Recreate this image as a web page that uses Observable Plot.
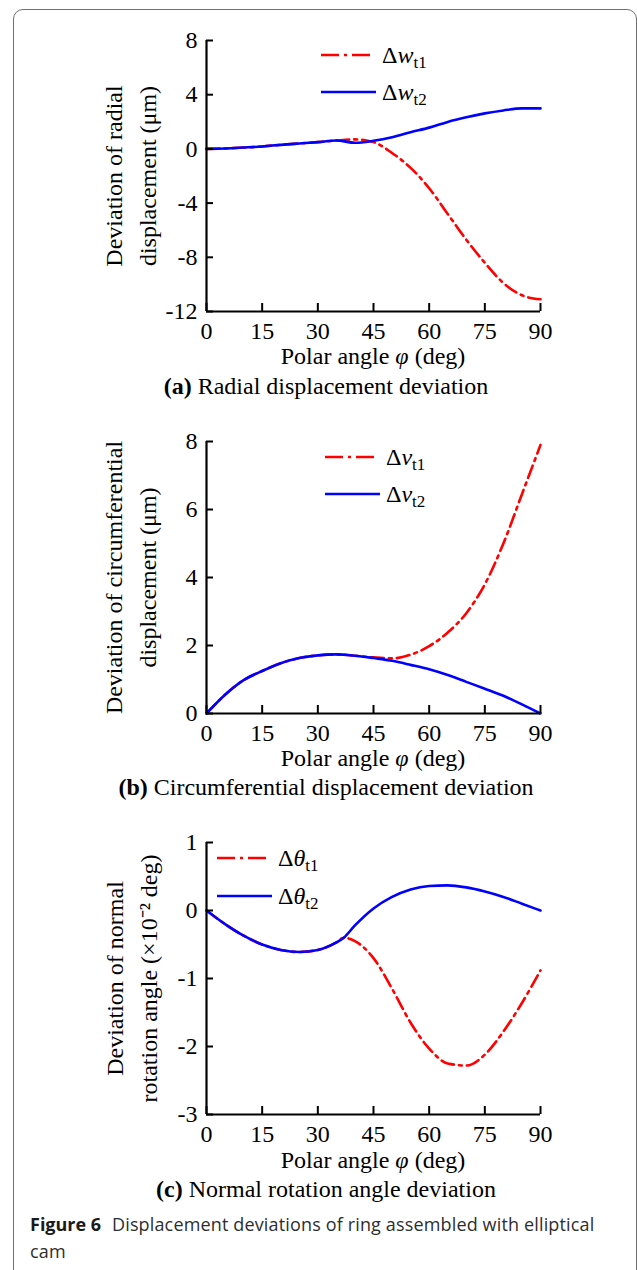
<!DOCTYPE html>
<html>
<head>
<meta charset="utf-8">
<script src="https://cdn.jsdelivr.net/npm/d3@7"></script>
<script src="https://cdn.jsdelivr.net/npm/@observablehq/plot@0.6"></script>
<style>
  body { margin: 0; background: #fff; }
  #wrap { position: relative; width: 637px; height: 1270px; overflow: hidden; background: #fff; }
  #frame { position: absolute; left: 13px; top: 9px; width: 624px; height: 1400px;
           border: 1.5px solid #707070; border-radius: 10px; box-sizing: border-box; }
  .panel { position: absolute; left: 0; }
  .sub { position: absolute; left: 0; width: 652px; text-align: center;
         font-family: "Liberation Serif", "Times New Roman", serif; font-size: 24px; line-height: 24px; color: #000; }
  .cap { position: absolute; left: 30px; top: 1211px; font-family: "Open Sans", sans-serif; font-size: 18px;
         letter-spacing: 0.15px; line-height: 27px; color: #2e2e2e; white-space: nowrap; }
  .cap b { color: #1a1a1a; font-weight: 700; margin-right: 6px; letter-spacing: 0; }
</style>
</head>
<body>
<div id="wrap">
  <div id="frame"></div>
  <div class="panel" id="pa" style="top:0px"></div>
  <div class="panel" id="pb" style="top:400px"></div>
  <div class="panel" id="pc" style="top:800px"></div>
  <div class="sub" style="top:374px"><b>(a)</b> Radial displacement deviation</div>
  <div class="sub" style="top:775px"><b>(b)</b> Circumferential displacement deviation</div>
  <div class="sub" style="top:1177px"><b>(c)</b> Normal rotation angle deviation</div>
  <div class="cap"><b>Figure 6</b> Displacement deviations of ring assembled with elliptical<br>cam</div>
</div>
<script>
// ---------- data ----------
const xTicks = [0, 15, 30, 45, 60, 75, 90];

// (a) radial displacement deviation (μm)
const phiA = [0, 5, 10, 15, 20, 25, 30, 35, 40, 45, 50, 55, 60, 65, 70, 75, 80, 85, 90];
const wT1  = [0, 0.03, 0.1, 0.18, 0.3, 0.4, 0.5, 0.62, 0.7, 0.5, -0.3, -1.4, -2.9, -4.8, -6.7, -8.4, -9.9, -10.8, -11.1];
const wT2  = [0, 0.03, 0.1, 0.18, 0.3, 0.4, 0.5, 0.62, 0.45, 0.6, 0.86, 1.23, 1.57, 1.99, 2.33, 2.62, 2.84, 2.99, 2.99];
const yTicksA = [-12, -8, -4, 0, 4, 8];

// (b) circumferential displacement deviation (μm)
const phiB = [0, 5, 10, 15, 20, 25, 30, 35, 40, 45, 50, 55, 60, 65, 70, 75, 80, 85, 90];
const vT1  = [0, 0.55, 0.98, 1.25, 1.48, 1.63, 1.71, 1.74, 1.7, 1.65, 1.62, 1.73, 1.98, 2.38, 2.95, 3.8, 5.0, 6.45, 7.9];
const vT2  = [0, 0.55, 0.98, 1.25, 1.48, 1.63, 1.71, 1.74, 1.7, 1.63, 1.55, 1.43, 1.3, 1.13, 0.93, 0.73, 0.52, 0.27, 0];
const yTicksB = [0, 2, 4, 6, 8];

// (c) normal rotation angle deviation (×10^-2 deg)
const phiC = [0, 5, 10, 15, 20, 25, 30, 35, 37, 40, 45, 50, 55, 60, 65, 70, 75, 80, 85, 90];
const thT1 = [0, -0.2, -0.37, -0.5, -0.58, -0.61, -0.58, -0.47, -0.4, -0.45, -0.7, -1.15, -1.65, -2.03, -2.25, -2.28, -2.12, -1.78, -1.36, -0.88];
const thT2 = [0, -0.2, -0.37, -0.5, -0.58, -0.61, -0.58, -0.47, -0.4, -0.22, 0.03, 0.2, 0.31, 0.36, 0.37, 0.34, 0.28, 0.2, 0.1, 0];
const yTicksC = [-3, -2, -1, 0, 1];

const RED = "#ff0000", BLUE = "#0000ff";
const FONT = '"Liberation Serif", "Times New Roman", serif';

function panel(el, cfg) {
  const r1 = cfg.phi.map((p, i) => ({phi: p, v: cfg.s1[i]}));
  const r2 = cfg.phi.map((p, i) => ({phi: p, v: cfg.s2[i]}));
  const yDom = [cfg.yTicks[0], cfg.yTicks[cfg.yTicks.length - 1]];
  const chart = Plot.plot({
    width: 637, height: cfg.height,
    marginLeft: 206, marginRight: 97, marginTop: cfg.mt, marginBottom: cfg.mb,
    x: {domain: [0, 90], label: null},
    y: {domain: yDom, label: null},
    style: {fontFamily: FONT, fontSize: "24px", color: "#000", background: "transparent", overflow: "visible"},
    marks: [
      Plot.line(r1, {x: "phi", y: "v", stroke: RED, strokeWidth: 2.6, strokeDasharray: "13,5,3,5", curve: "monotone-x"}),
      Plot.line(r2, {x: "phi", y: "v", stroke: BLUE, strokeWidth: 2.6, curve: "monotone-x"}),
      Plot.ruleX([0], {stroke: "#000", strokeWidth: 2.2}),
      Plot.ruleY([yDom[0]], {stroke: "#000", strokeWidth: 2.2}),
      Plot.axisX({ticks: xTicks, tickSize: 8, dy: -8, strokeWidth: 2, tickFormat: () => ""}),
      Plot.axisX({ticks: xTicks, tickSize: 0, tickPadding: 10, fontSize: 24, tickFormat: d => String(d)}),
      Plot.axisY({ticks: cfg.yTicks, tickSize: 7, dx: 7, strokeWidth: 2, tickFormat: () => ""}),
      Plot.axisY({ticks: cfg.yTicks, tickSize: 0, tickPadding: 9, fontSize: 24, tickFormat: d => String(d)}),
      Plot.text([cfg.ylab1], {text: d => d, frameAnchor: "left", textAnchor: "middle", lineAnchor: "middle", rotate: -90, dx: cfg.ldx1, fontSize: 24, fill: "#000"}),
      Plot.text([cfg.ylab2], {text: d => d, frameAnchor: "left", textAnchor: "middle", lineAnchor: "middle", rotate: -90, dx: cfg.ldx2, fontSize: 24, fill: "#000"})
    ]
  });
  const svg = d3.select(chart);
  // x-axis title with italic phi
  const t = svg.append("text").attr("x", 373).attr("y", cfg.titleY)
    .attr("text-anchor", "middle").attr("font-family", FONT).attr("font-size", 24).attr("fill", "#000");
  t.append("tspan").text("Polar angle ");
  t.append("tspan").attr("font-style", "italic").text("φ");
  t.append("tspan").text(" (deg)");
  // legend
  const L = cfg.legend;
  const items = [
    {color: RED, dash: "18,5,3,5", y: L.y1, sub: "t1", w: 51},
    {color: BLUE, dash: null, y: L.y2, sub: "t2", w: 55}
  ];
  for (const it of items) {
    svg.append("line").attr("x1", L.x).attr("x2", L.x + it.w).attr("y1", it.y).attr("y2", it.y)
      .attr("stroke", it.color).attr("stroke-width", 2.6).attr("stroke-dasharray", it.dash);
    const tx = svg.append("text").attr("x", L.tx).attr("y", it.y + 8).attr("text-anchor", "start")
      .attr("font-family", FONT).attr("font-size", 24).attr("fill", "#000");
    tx.append("tspan").text("Δ");
    tx.append("tspan").attr("font-style", "italic").text(L.sym);
    tx.append("tspan").attr("font-size", 17).attr("dy", 5).text(it.sub);
  }
  el.appendChild(chart);
}

panel(document.getElementById("pa"), {
  phi: phiA, s1: wT1, s2: wT2, yTicks: yTicksA,
  height: 372, mt: 40, mb: 61, titleY: 364,
  ylab1: "Deviation of radial", ylab2: "displacement (μm)", ldx1: -92, ldx2: -58,
  legend: {x: 321, tx: 382, y1: 55, y2: 92, sym: "w"}
});
panel(document.getElementById("pb"), {
  phi: phiB, s1: vT1, s2: vT2, yTicks: yTicksB,
  height: 375, mt: 41, mb: 62, titleY: 366,
  ylab1: "Deviation of circumferential", ylab2: "displacement (μm)", ldx1: -92, ldx2: -58,
  legend: {x: 325, tx: 386, y1: 57, y2: 94, sym: "v"}
});
panel(document.getElementById("pc"), {
  phi: phiC, s1: thT1, s2: thT2, yTicks: yTicksC,
  height: 375, mt: 42, mb: 61, titleY: 368,
  ylab1: "Deviation of normal", ylab2: "rotation angle (×10⁻² deg)", ldx1: -91, ldx2: -57,
  legend: {x: 217, tx: 278, y1: 58, y2: 96, sym: "θ"}
});
</script>
</body>
</html>
